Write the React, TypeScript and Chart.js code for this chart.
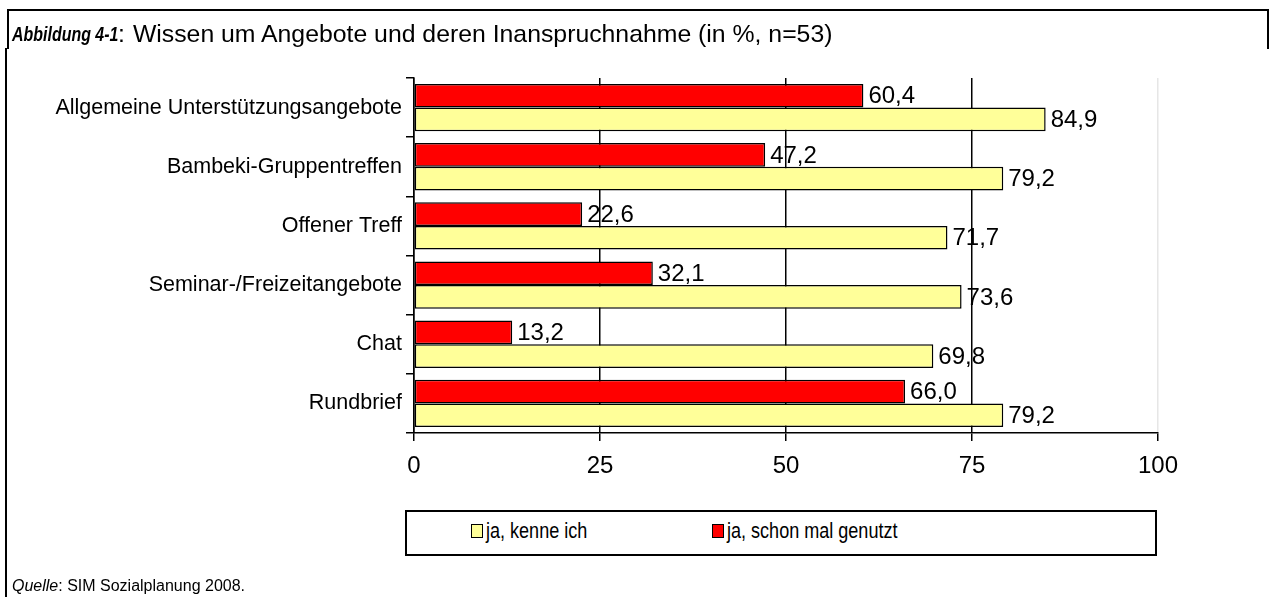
import React, { useEffect, useRef } from "react";
import { Chart, registerables } from "chart.js";

Chart.register(...registerables);

const categories = [
  "Allgemeine Unterstützungsangebote",
  "Bambeki-Gruppentreffen",
  "Offener Treff",
  "Seminar-/Freizeitangebote",
  "Chat",
  "Rundbrief",
];
const genutzt = [60.4, 47.2, 22.6, 32.1, 13.2, 66.0];
const kenne = [84.9, 79.2, 71.7, 73.6, 69.8, 79.2];
const xTicks = [0, 25, 50, 75, 100];
const seriesLabels = ["ja, schon mal genutzt", "ja, kenne ich"];

const FONT = "'Liberation Sans', Arial, sans-serif";

const valueLabels = {
  id: "valueLabels",
  afterDatasetsDraw(chart: any) {
    const ctx = chart.ctx;
    ctx.save();
    ctx.font = `24px ${FONT}`;
    ctx.fillStyle = "#000";
    ctx.textAlign = "left";
    ctx.textBaseline = "middle";
    chart.data.datasets.forEach((ds: any, di: number) => {
      const meta = chart.getDatasetMeta(di);
      meta.data.forEach((el: any, i: number) => {
        const v = ds.data[i] as number;
        ctx.fillText(v.toFixed(1).replace(".", ","), el.x + 5, el.y + 1);
      });
    });
    ctx.restore();
  },
};

export default function App() {
  const ref = useRef<HTMLCanvasElement>(null);
  useEffect(() => {
    document.body.style.margin = "0";
    const chart = new Chart(ref.current!, {
      type: "bar",
      data: {
        labels: categories,
        datasets: [
          {
            label: seriesLabels[0],
            data: genutzt,
            backgroundColor: "#FF0000",
            borderColor: "#000",
            borderWidth: 1.5,
            borderSkipped: false,
          },
          {
            label: seriesLabels[1],
            data: kenne,
            backgroundColor: "#FFFF99",
            borderColor: "#000",
            borderWidth: 1.5,
            borderSkipped: false,
          },
        ],
      },
      options: {
        indexAxis: "y",
        responsive: false,
        animation: false,
        devicePixelRatio: 1,
        datasets: { bar: { categoryPercentage: 0.8, barPercentage: 1.0 } },
        layout: { padding: { left: 0, top: 78, right: 112, bottom: 0 } },
        plugins: {
          legend: { display: false },
          title: { display: false },
          tooltip: { enabled: false },
        },
        scales: {
          x: {
            type: "linear",
            position: "bottom",
            min: 0,
            max: 100,
            afterBuildTicks: (scale: any) => {
              scale.ticks = xTicks.map((v) => ({ value: v }));
            },
            afterFit: (scale: any) => {
              scale.height = 164;
            },
            ticks: {
              color: "#000",
              font: { family: FONT, size: 24 },
              padding: 11,
              maxRotation: 0,
            },
            grid: {
              color: (c: any) => (c.tick && c.tick.value === 100 ? "#e6e6e6" : "#000"),
              tickColor: "#000",
              lineWidth: 1.5,
              tickLength: 8,
            },
            border: { display: true, color: "#000", width: 1.5 },
          },
          y: {
            type: "category",
            afterFit: (scale: any) => {
              scale.width = 414;
            },
            ticks: {
              color: "#000",
              font: { family: FONT, size: 21.5 },
              padding: 4,
            },
            grid: {
              drawOnChartArea: false,
              color: "#000",
              lineWidth: 1.5,
              tickLength: 8,
            },
            border: { display: true, color: "#000", width: 1.5 },
          },
        },
      },
      plugins: [valueLabels],
    });
    return () => chart.destroy();
  }, []);

  const line = (s: React.CSSProperties) => (
    <div style={{ position: "absolute", background: "#000", ...s }} />
  );

  return (
    <div
      style={{
        position: "absolute",
        left: 0,
        top: 0,
        width: 1270,
        height: 597,
        background: "#fff",
        overflow: "hidden",
        fontFamily: FONT,
      }}
    >
      <canvas
        ref={ref}
        width={1270}
        height={597}
        style={{ position: "absolute", left: 0, top: 0, width: 1270, height: 597 }}
      />
      {line({ left: 7, top: 9, width: 1262, height: 2 })}
      {line({ left: 1267, top: 9, width: 2, height: 40 })}
      {line({ left: 7, top: 9, width: 2, height: 40 })}
      {line({ left: 5, top: 48, width: 2, height: 549 })}
      <div
        style={{
          position: "absolute",
          left: 12,
          top: 20,
          fontSize: 21,
          lineHeight: "28px",
          whiteSpace: "nowrap",
          color: "#000",
          fontWeight: "bold",
          fontStyle: "italic",
          transform: "scaleX(0.76)",
          transformOrigin: "left center",
        }}
      >
        Abbildung 4-1
      </div>
      <div
        style={{
          position: "absolute",
          left: 118,
          top: 20,
          fontSize: 24.8,
          lineHeight: "28px",
          whiteSpace: "nowrap",
          color: "#000",
        }}
      >
        :<span style={{ marginLeft: 8 }}>Wissen um Angebote und deren Inanspruchnahme (in %, n=53)</span>
      </div>
      <div
        style={{
          position: "absolute",
          left: 405,
          top: 510,
          width: 748,
          height: 42,
          border: "2px solid #000",
          background: "#fff",
        }}
      >
        <div
          style={{
            position: "absolute",
            left: 64,
            top: 12,
            width: 10,
            height: 12,
            background: "#FFFF99",
            border: "1.5px solid #000",
          }}
        />
        <div
          style={{
            position: "absolute",
            left: 79,
            top: 6,
            fontSize: 22,
            lineHeight: "26px",
            whiteSpace: "nowrap",
            transform: "scaleX(0.82)",
            transformOrigin: "left center",
          }}
        >
          {seriesLabels[1]}
        </div>
        <div
          style={{
            position: "absolute",
            left: 305,
            top: 12,
            width: 10,
            height: 12,
            background: "#FF0000",
            border: "1.5px solid #000",
          }}
        />
        <div
          style={{
            position: "absolute",
            left: 320,
            top: 6,
            fontSize: 22,
            lineHeight: "26px",
            whiteSpace: "nowrap",
            transform: "scaleX(0.82)",
            transformOrigin: "left center",
          }}
        >
          {seriesLabels[0]}
        </div>
      </div>
      <div
        style={{
          position: "absolute",
          left: 12,
          top: 577,
          fontSize: 16,
          lineHeight: "18px",
          whiteSpace: "nowrap",
        }}
      >
        <i>Quelle</i>: SIM Sozialplanung 2008.
      </div>
    </div>
  );
}
